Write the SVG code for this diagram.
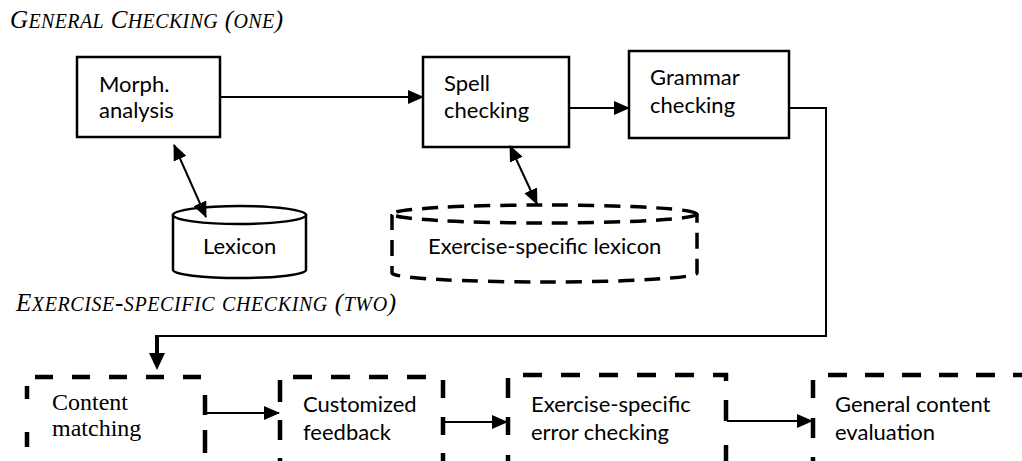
<svg xmlns="http://www.w3.org/2000/svg" width="1022" height="461" viewBox="0 0 1022 461">
<style>
.box{fill:#fff;stroke:#000;stroke-width:2.5}
.t{font-family:Lato,"Open Sans",sans-serif;font-size:22px;fill:#000}
.ser{font-family:"Liberation Serif","Times New Roman",serif;fill:#000}
.ttl{font-family:"Liberation Serif","Times New Roman",serif;font-style:italic;fill:#000}
.big{font-size:25px}
.sm{font-size:20px}
.conn{fill:none;stroke:#000;stroke-width:2}
.dbox{fill:none;stroke:#000;stroke-width:4.5}
.dcyl{fill:#fff;stroke:#000;stroke-width:3.5;stroke-dasharray:16 10}
</style>
<defs>
<marker id="ah" viewBox="0 0 16 14" refX="15" refY="7" markerWidth="16" markerHeight="14" markerUnits="userSpaceOnUse" orient="auto-start-reverse">
<path d="M0 0 L16 7 L0 14 Z" fill="#000"/>
</marker>
<marker id="ahs" viewBox="0 0 16 14" refX="15" refY="7" markerWidth="16" markerHeight="14" markerUnits="userSpaceOnUse" orient="auto">
<path d="M0 0 L16 7 L0 14 Z" fill="#000"/>
</marker>
</defs>
<rect width="1022" height="461" fill="#fff"/>

<text id="title-one" class="ttl" x="10" y="28" textLength="273" lengthAdjust="spacing"><tspan class="big">G</tspan><tspan class="sm">ENERAL</tspan><tspan class="big"> C</tspan><tspan class="sm">HECKING</tspan><tspan class="big"> (</tspan><tspan class="sm">ONE</tspan><tspan class="big">)</tspan></text>
<text id="title-two" class="ttl" x="16" y="311" textLength="380" lengthAdjust="spacing"><tspan class="big">E</tspan><tspan class="sm">XERCISE</tspan><tspan class="big">-</tspan><tspan class="sm">SPECIFIC</tspan><tspan class="big"> </tspan><tspan class="sm">CHECKING</tspan><tspan class="big"> (</tspan><tspan class="sm">TWO</tspan><tspan class="big">)</tspan></text>

<g id="morph">
<rect class="box" x="77" y="57" width="143" height="80"/>
<text class="t" x="99" y="92">Morph.</text>
<text class="t" x="99" y="118">analysis</text>
</g>
<g id="spell">
<rect class="box" x="423" y="57" width="146" height="90"/>
<text class="t" x="444" y="91">Spell</text>
<text class="t" x="444" y="118">checking</text>
</g>
<g id="grammar">
<rect class="box" x="629" y="51" width="160" height="87"/>
<text class="t" x="650" y="85">Grammar</text>
<text class="t" x="650" y="113">checking</text>
</g>
<g id="lexicon">
<path class="box" d="M173 215 V270 A66.5 8 0 0 0 306 270 V215 Z"/>
<ellipse class="box" cx="239.5" cy="215" rx="66.5" ry="9"/>
<text class="t" x="203" y="254">Lexicon</text>
</g>
<g id="ex-lexicon">
<path class="dcyl" d="M392 214 V273 A152.5 9 0 0 0 697 273 V214"/>
<ellipse class="dcyl" cx="544.5" cy="214" rx="152.5" ry="9"/>
<text class="t" x="428" y="254">Exercise-specific lexicon</text>
</g>

<g id="content-matching">
<path class="dbox" d="M35 377 H205" stroke-dasharray="18 19"/>
<path class="dbox" d="M27 386 V399 M27 432 V447 M205 395 V415 M205 430 V453"/>
<text class="ser" font-size="24" x="52" y="410">Content</text>
<text class="ser" font-size="24" x="52" y="436">matching</text>
</g>
<g id="customized-feedback">
<path class="dbox" d="M293 377 H427" stroke-dasharray="19 19"/>
<path class="dbox" d="M280 380 V402 M280 420 V440 M280 458 V470 M443 380 V398 M443 417 V435 M443 453 V470"/>
<text class="t" x="303" y="412">Customized</text>
<text class="t" x="303" y="440">feedback</text>
</g>
<g id="exercise-error">
<path class="dbox" d="M523 375 H726 V382" stroke-dasharray="19 19"/>
<path class="dbox" d="M508 378 V398 M508 417 V435 M508 455 V470 M726 400 V421 M726 445 V467"/>
<text class="t" x="531" y="412">Exercise-specific</text>
<text class="t" x="531" y="440">error checking</text>
</g>
<g id="general-content">
<path class="dbox" d="M828 375 H1022" stroke-dasharray="19 18"/>
<path class="dbox" d="M813 380 V398 M813 418 V438 M813 457 V470"/>
<text class="t" x="835" y="412">General content</text>
<text class="t" x="835" y="440">evaluation</text>
</g>

<g id="connectors">
<path class="conn" d="M220 97 H423" marker-end="url(#ahs)"/>
<path class="conn" d="M569 108 H629" marker-end="url(#ahs)"/>
<path class="conn" d="M174 145 L206 217" marker-start="url(#ah)" marker-end="url(#ah)"/>
<path class="conn" d="M510 146 L537 204" marker-start="url(#ah)" marker-end="url(#ah)"/>
<path class="conn" d="M789 108 H826 V336 H157"/>
<path d="M157 335 V355" fill="none" stroke="#000" stroke-width="4"/>
<path d="M149 353 L165 353 L157 370 Z" fill="#000"/>
<path class="conn" d="M205 413 H279" marker-end="url(#ahs)"/>
<path class="conn" d="M445 422 H507" marker-end="url(#ahs)"/>
<path class="conn" d="M727 421 H812" marker-end="url(#ahs)"/>
</g>
</svg>
